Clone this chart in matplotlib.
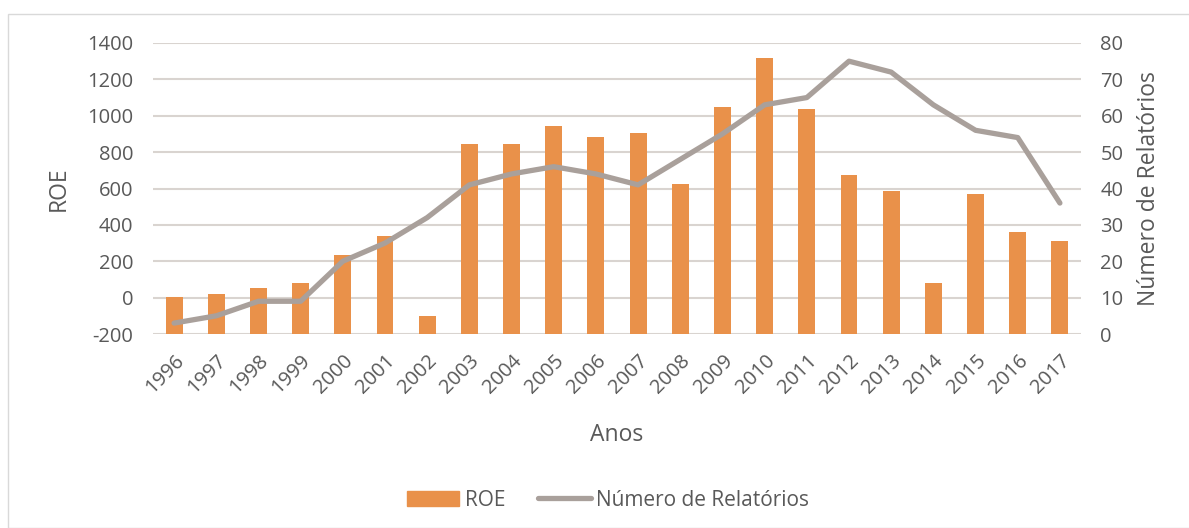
import matplotlib
matplotlib.use("Agg")
import matplotlib.pyplot as plt
from matplotlib.patches import Rectangle
from matplotlib.lines import Line2D

years = [str(y) for y in range(1996, 2018)]
roe = [5, 18, 53, 83, 235, 340, -100, 842, 846, 941, 881, 903, 624, 1048,
       1319, 1037, 672, 589, 83, 572, 362, 314]
relatorios = [3, 5, 9, 9, 20, 25, 32, 41, 44, 46, 44, 41, 48, 55, 63, 65,
              75, 72, 63, 56, 54, 36]
roe_ticks = [-200, 0, 200, 400, 600, 800, 1000, 1200, 1400]
rel_ticks = [0, 10, 20, 30, 40, 50, 60, 70, 80]

plt.rcParams['font.family'] = ['Open Sans', 'DejaVu Sans']
plt.rcParams['axes.unicode_minus'] = False
txt = '#595959'
bar_c = '#E9914A'
line_c = '#A9A09B'
grid_c = '#D9D4D0'
fs = 14.5
tfs = 16.5

W, H = 1189, 528
fig = plt.figure(figsize=(W / 100, H / 100), dpi=100)
fig.patches.append(Rectangle((8 / W, 0), 1.2, (H - 14) / H, transform=fig.transFigure,
                             fill=False, edgecolor='#D9D9D9', linewidth=1))

left, right, top, bottom = 153, 1081, 43, 334
ax = fig.add_axes([left / W, 1 - bottom / H, (right - left) / W, (bottom - top) / H])
x = list(range(len(years)))
base = roe_ticks[0]
ax.bar(x, [v - base for v in roe], bottom=base, width=0.4, color=bar_c, zorder=2)
ax.set_ylim(roe_ticks[0], roe_ticks[-1])
ax.set_yticks(roe_ticks)
ax.set_xlim(-0.5, len(years) - 0.5)
ax.set_xticks(x)
ax.set_xticklabels(years, rotation=45, ha='right', rotation_mode='anchor')
ax.grid(axis='y', color=grid_c, linewidth=1.5, zorder=0)
ax.set_axisbelow(True)
for s in ax.spines.values():
    s.set_visible(False)
ax.tick_params(axis='both', length=0, labelsize=fs, labelcolor=txt)
ax.tick_params(axis='y', pad=14)
ax.tick_params(axis='x', pad=12)
ax.set_ylabel('ROE', fontsize=tfs, color=txt, labelpad=12)
ax.set_xlabel('Anos', fontsize=tfs, color=txt, labelpad=18)

ax2 = ax.twinx()
ax2.plot(x, relatorios, color=line_c, linewidth=3.8, solid_capstyle='round',
         solid_joinstyle='round', zorder=3)
ax2.set_ylim(rel_ticks[0], rel_ticks[-1])
ax2.set_yticks(rel_ticks)
for s in ax2.spines.values():
    s.set_visible(False)
ax2.tick_params(axis='y', length=0, labelsize=fs, labelcolor=txt, pad=14)
ax2.set_ylabel('Número de Relatórios', fontsize=tfs, color=txt, labelpad=10)

handles = [Rectangle((0, 0), 1, 1, color=bar_c),
           Line2D([0], [0], color=line_c, linewidth=3.8, solid_capstyle='round')]
fig.legend(handles, ['ROE', 'Número de Relatórios'], loc='center',
           bbox_to_anchor=(608 / W, 1 - 500 / H), ncol=2, frameon=False,
           fontsize=15, labelcolor=txt, handlelength=2.5, handletextpad=0.25,
           columnspacing=1.6)

fig.savefig('out.png', dpi=100, facecolor='white')
